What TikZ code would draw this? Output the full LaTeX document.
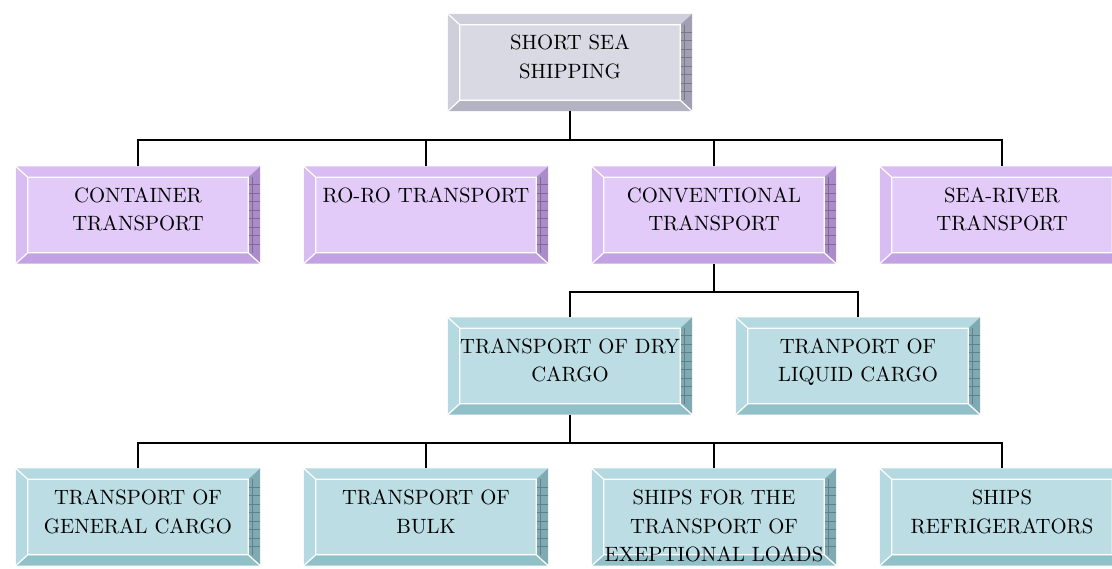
\documentclass[tikz,border=0pt]{standalone}
\usepackage{fontspec}
\setmainfont{lmroman10-regular.otf}
\usetikzlibrary{positioning,calc,backgrounds}
\definecolor{rootTop}{HTML}{CFCFDB}
\definecolor{rootIn}{HTML}{D9D9E3}
\definecolor{rootBot}{HTML}{B3B3C4}
\definecolor{rootRt}{HTML}{A0A0B2}
\definecolor{lilTop}{HTML}{D9BDF2}
\definecolor{lilIn}{HTML}{E3CBF9}
\definecolor{lilBot}{HTML}{C2A2E3}
\definecolor{lilRt}{HTML}{AB8CCB}
\definecolor{tlTop}{HTML}{B5D9E1}
\definecolor{tlIn}{HTML}{BCDDE4}
\definecolor{tlBot}{HTML}{92C0C9}
\definecolor{tlRt}{HTML}{7FAAB3}
\tikzstyle{box} = [rectangle,minimum width=244pt,minimum height=97pt,inner sep=2pt,
  text width=230pt,align=center,text height=20pt,text depth=45pt,
  font=\fontsize{20.7}{28.5}\selectfont]
\tikzstyle{link} = [draw,line width=1.6pt]
% bevelled frame behind a node: #1 node, #2 colour prefix
\newcommand{\bevelbox}[2]{
  \coordinate (isw) at ($(#1.south west)+(12pt,11pt)$);
  \coordinate (inw) at ($(#1.north west)+(12pt,-11pt)$);
  \coordinate (ine) at ($(#1.north east)+(-12pt,-11pt)$);
  \coordinate (ise) at ($(#1.south east)+(-12pt,11pt)$);
  \fill[#2In] (isw) rectangle (ine);
  \fill[#2Top] (#1.south west) -- (#1.north west) -- (#1.north east) -- (ine) -- (inw) -- (isw) -- cycle;
  \fill[#2Bot] (#1.south west) -- (#1.south east) -- (ise) -- (isw) -- cycle;
  \fill[#2Rt] (#1.south east) -- (#1.north east) -- (ine) -- (ise) -- cycle;
  \foreach \k in {1,...,8}
    \draw[#2Rt!75!black,line width=0.4pt] ($(ise)+(0pt,\k*8.5pt)$) -- ($(ise)+(12pt,\k*8.5pt)$);
  \draw[#2Rt!75!black,line width=0.4pt] ($(ise)+(4pt,0pt)$) -- ($(ine)+(4pt,0pt)$);
  \draw[white,line width=1.2pt] (isw) rectangle (ine)
    (#1.south west) -- (isw) (#1.north west) -- (inw) (#1.south east) -- (ise);
}

\begin{document}
\begin{tikzpicture}[x=1pt,y=-1pt,node distance=288pt]
  \useasboundingbox (0,0) rectangle (1112,569);
  %root
  \node[box] (ssh) at (570,62.5) {SHORT SEA\\SHIPPING};

  %second level
  \node[box] (cont) at (138,215) {CONTAINER\\TRANSPORT};
  \node[box,right of=cont] (roro) {RO-RO TRANSPORT};
  \node[box,right of=roro] (conv) {CONVENTIONAL\\TRANSPORT};
  \node[box,right of=conv] (sear) {SEA-RIVER\\TRANSPORT};

  %conventional
  \node[box] (dry) at (570,366) {TRANSPORT OF DRY\\CARGO};
  \node[box,right of=dry] (liq) {TRANPORT OF\\LIQUID CARGO};

  %dry cargo
  \node[box] (gen) at (138,517) {TRANSPORT OF\\GENERAL CARGO};
  \node[box,right of=gen] (bulk) {TRANSPORT OF\\BULK};
  \node[box,right of=bulk] (excl) {SHIPS FOR THE\\TRANSPORT OF\\EXEPTIONAL LOADS};
  \node[box,right of=excl] (refr) {SHIPS\\REFRIGERATORS};

  %frames
  \begin{scope}[on background layer]
    \bevelbox{ssh}{root}
    \bevelbox{cont}{lil}
    \bevelbox{roro}{lil}
    \bevelbox{conv}{lil}
    \bevelbox{sear}{lil}
    \bevelbox{dry}{tl}
    \bevelbox{liq}{tl}
    \bevelbox{gen}{tl}
    \bevelbox{bulk}{tl}
    \bevelbox{excl}{tl}
    \bevelbox{refr}{tl}
  \end{scope}

  %junctions
  \node[coordinate,below of=ssh,node distance=77.5pt] (j1) {};
  \node[coordinate,below of=conv,node distance=77pt] (j2) {};
  \node[coordinate,below of=dry,node distance=77pt] (j3) {};

  %draw the links
  \draw[link] (ssh) -- (j1);
  \draw[link] (cont) |- (j1) -| (sear);
  \draw[link] (roro) -- (roro |- j1);
  \draw[link] (conv) -- (conv |- j1);

  \draw[link] (conv) -- (j2);
  \draw[link] (dry) |- (j2) -| (liq);

  \draw[link] (dry) -- (j3);
  \draw[link] (gen) |- (j3) -| (refr);
  \draw[link] (bulk) -- (bulk |- j3);
  \draw[link] (excl) -- (excl |- j3);
\end{tikzpicture}
\end{document}
